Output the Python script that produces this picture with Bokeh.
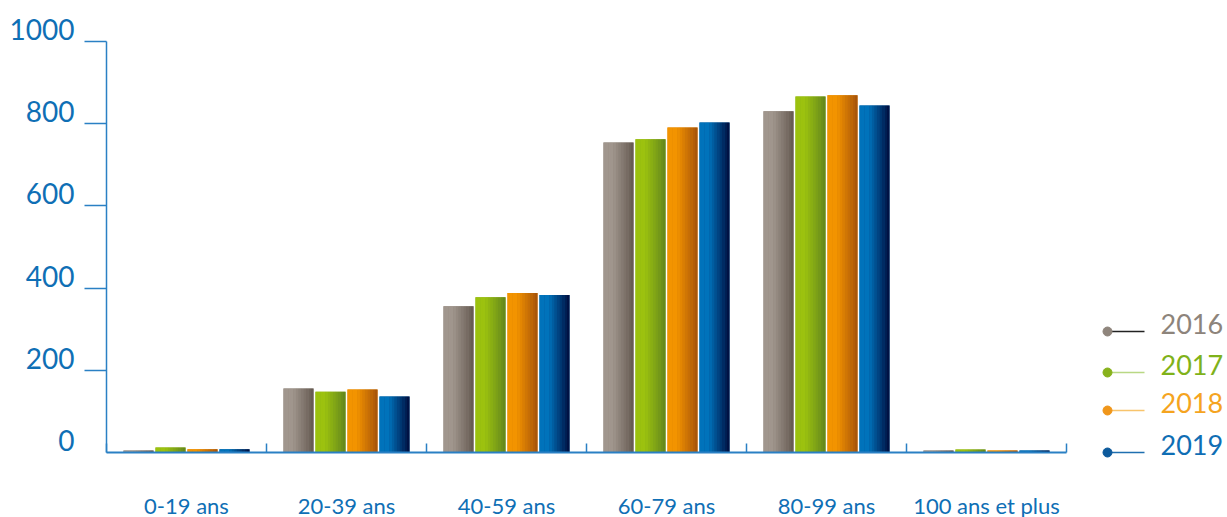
from bokeh.plotting import figure
from bokeh.layouts import row, column
from bokeh.models import Range1d, LinearAxis, FixedTicker, ColumnDataSource
from bokeh.core.properties import value
from bokeh.embed import file_html
from bokeh.resources import INLINE

categories = ["0-19 ans", "20-39 ans", "40-59 ans", "60-79 ans", "80-99 ans", "100 ans et plus"]
years = ["2016", "2017", "2018", "2019"]
v2016 = [5, 156, 356, 754, 830, 5]
v2017 = [12, 148, 378, 762, 866, 7]
v2018 = [8, 153, 388, 791, 869, 5]
v2019 = [8, 136, 383, 803, 844, 5]
y_ticks = [0, 200, 400, 600, 800, 1000]

series = [v2016, v2017, v2018, v2019]

BLUE = "#0f6fb5"
AXIS = "#2a80c4"
FONT = "Lato"
grad = [("#a0968d", "#685c54"), ("#9cc20f", "#66891d"), ("#f39400", "#a9560a"), ("#0073bb", "#001244")]
legend_line = ["#222222", "#b9d884", "#f8c46c", "#1f6fb0"]
legend_dot = ["#8f857c", "#88b21c", "#f0961a", "#0d5a9c"]
legend_text = ["#8d847b", "#7fb21a", "#f5a41f", "#0f6eb4"]

# layout (pixels)
H = 517
MAIN_W = 1080
PX_PER_UNIT = 411.0 / 1000.0
TOP_EXTRA_PX = 20
LABEL_SHIFT_PX = 12
y_end = 1000 + TOP_EXTRA_PX / PX_PER_UNIT
shift = LABEL_SHIFT_PX / PX_PER_UNIT

p = figure(frame_width=960, frame_height=411 + TOP_EXTRA_PX,
           x_range=Range1d(0, len(categories)), y_range=Range1d(0, y_end),
           output_backend="svg", toolbar_location=None, x_axis_location=None, y_axis_location=None,
           min_border_left=106, min_border_right=MAIN_W - 106 - 960,
           min_border_top=41 - TOP_EXTRA_PX, min_border_bottom=H - 41 - 411)
p.extra_y_ranges = {"lab": Range1d(-shift, y_end - shift)}
p.outline_line_color = None
p.grid.visible = False
p.background_fill_color = "white"


def hx(c):
    return tuple(int(c[i:i + 2], 16) for i in (1, 3, 5))


def mix(a, b, t):
    a, b = hx(a), hx(b)
    return "#%02x%02x%02x" % tuple(round(a[i] + (b[i] - a[i]) * t) for i in range(3))


bw = 0.1875
offsets = [-0.3, -0.1, 0.1, 0.3]
N = 12
for s, vals in enumerate(series):
    c0, c1 = grad[s]
    base = ColumnDataSource(dict(x=[i + 0.5 + offsets[s] for i in range(len(categories))], top=vals))
    p.vbar(x="x", top="top", bottom=0, width=bw, source=base, fill_color=mix(c0, c1, 0.3), line_color=None)
    xs, tops, cols = [], [], []
    for k in range(N):
        t = k / (N - 1)
        tt = max(0.0, (t - 0.3) / 0.7)
        col = mix(c0, c1, tt)
        for i, v in enumerate(vals):
            xs.append(i + 0.5 + offsets[s] - bw / 2 + (k + 0.5) * bw / N)
            tops.append(v)
            cols.append(col)
    src = ColumnDataSource(dict(x=xs, top=tops, color=cols))
    p.vbar(x="x", top="top", bottom=0, width=bw / N * 1.05, source=src, fill_color="color", line_color=None)

# y axis: labels sit a little above their tick marks (tick marks drawn as minor ticks)
yaxis = LinearAxis(y_range_name="lab",
                   ticker=FixedTicker(ticks=y_ticks, minor_ticks=[t - shift for t in y_ticks if t > 0]),
                   bounds=(-shift, 1000 - shift),
                   major_tick_out=0, major_tick_in=0, minor_tick_out=22, minor_tick_in=0,
                   axis_line_color=AXIS, axis_line_width=1.5,
                   major_tick_line_color=None, minor_tick_line_color=AXIS, minor_tick_line_width=1.5,
                   major_label_text_color=BLUE, major_label_text_font=FONT,
                   major_label_text_font_size="28px", major_label_standoff=10)
p.add_layout(yaxis, "left")

centers = [i + 0.5 for i in range(len(categories))]
bounds = list(range(len(categories) + 1))
xaxis = LinearAxis(ticker=FixedTicker(ticks=centers, minor_ticks=bounds), bounds=(0, len(categories)),
                   major_label_overrides={c: n for c, n in zip(centers, categories)},
                   major_tick_in=0, major_tick_out=0, minor_tick_in=9, minor_tick_out=0,
                   minor_tick_line_color=AXIS, minor_tick_line_width=1.5,
                   axis_line_color=AXIS, axis_line_width=2.2,
                   major_label_text_color=BLUE, major_label_text_font=FONT,
                   major_label_text_font_size="22px", major_label_standoff=39)
p.add_layout(xaxis, "below")

# legend panel (coordinates in page pixels)
LEG_W = 1227 - MAIN_W
leg = figure(width=LEG_W, height=H, x_range=Range1d(MAIN_W, 1227), y_range=Range1d(H, 0),
             output_backend="svg", toolbar_location=None, x_axis_location=None, y_axis_location=None,
             min_border=0)
leg.outline_line_color = None
leg.grid.visible = False
leg_y = [331, 372, 410, 452]
dot_x, line_end_x, text_x = 1107, 1144, 1160
lsrc = ColumnDataSource(dict(year=years, y=leg_y, ty=[y - 8 for y in leg_y],
                             lc=legend_line, dc=legend_dot, tc=legend_text))
leg.segment(x0=dot_x, x1=line_end_x, y0="y", y1="y", line_color="lc", line_width=1.3, source=lsrc)
leg.scatter(x=dot_x, y="y", marker="circle", size=9, fill_color="dc", line_color="dc", source=lsrc)
leg.text(x=text_x, y="ty", text="year", text_color="tc", text_font=value(FONT), text_font_size="27px",
         text_baseline="alphabetic", text_align="left", source=lsrc)

layout = row(p, column(leg, spacing=0), spacing=0)
open("out.html", "w").write(file_html(layout, INLINE))
